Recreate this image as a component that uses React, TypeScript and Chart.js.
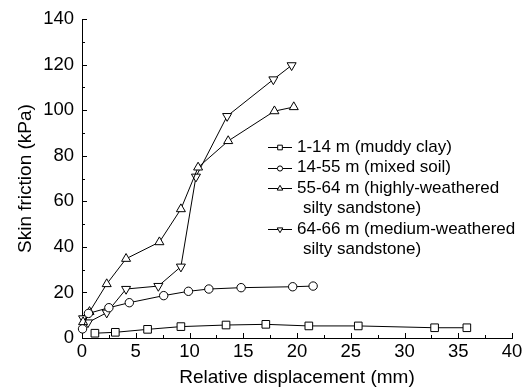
import React, { useEffect, useRef } from "react";
import { Chart, registerables } from "chart.js";
import { drawPoint } from "chart.js/helpers";

Chart.register(...registerables);

const FONT = "'Liberation Sans', Arial, sans-serif";

const seriesLabels = [
  ["1-14 m (muddy clay)"],
  ["14-55 m (mixed soil)"],
  ["55-64 m (highly-weathered", " silty sandstone)"],
  ["64-66 m (medium-weathered", " silty sandstone)"],
];

const clayX = [1.2, 3.1, 6.1, 9.2, 13.4, 17.1, 21.1, 25.7, 32.8, 35.8];
const clayY = [2.1, 2.5, 3.8, 5.0, 5.7, 6.0, 5.3, 5.3, 4.5, 4.5];

const mixedX = [0.05, 0.6, 2.5, 4.4, 7.6, 9.9, 11.8, 14.8, 19.6, 21.5];
const mixedY = [4.0, 10.8, 13.3, 15.5, 18.6, 20.5, 21.5, 22.1, 22.5, 22.8];

const highlyX = [0.1, 0.7, 2.3, 4.1, 7.2, 9.2, 10.8, 13.6, 17.9, 19.7];
const highlyY = [7.0, 11.5, 23.7, 34.8, 42.1, 56.6, 74.9, 86.5, 99.6, 101.4];

const mediumX = [0.1, 0.55, 2.3, 4.1, 7.1, 9.2, 10.6, 13.5, 17.8, 19.5];
const mediumY = [8.6, 6.8, 11.1, 21.5, 22.8, 31.3, 70.8, 97.4, 113.5, 119.7];

const xTickValues = [0, 5, 10, 15, 20, 25, 30, 35, 40];
const yTickValues = [0, 20, 40, 60, 80, 100, 120, 140];

const styles = [
  { pointStyle: "rect", radius: 5.4, rotation: 0, legendRadius: 3.3 },
  { pointStyle: "circle", radius: 4.2, rotation: 0, legendRadius: 2.6 },
  { pointStyle: "triangle", radius: 5.2, rotation: 0, legendRadius: 3.2 },
  { pointStyle: "triangle", radius: 5.2, rotation: 180, legendRadius: 3.2 },
];

function pts(xs: number[], ys: number[]) {
  return xs.map((x, i) => ({ x, y: ys[i] }));
}

const ticksPlugin = {
  id: "innerTicks",
  afterDraw(chart: any) {
    const ctx = chart.ctx;
    const xs = chart.scales.x;
    const ys = chart.scales.y;
    const area = chart.chartArea;
    ctx.save();
    ctx.strokeStyle = "#000";
    ctx.lineWidth = 1;
    ctx.beginPath();
    for (let v = 0; v <= 40; v += 2.5) {
      const px = Math.round(xs.getPixelForValue(v)) + 0.5;
      const len = v % 5 === 0 ? 5 : 3;
      ctx.moveTo(px, area.bottom);
      ctx.lineTo(px, area.bottom - len);
    }
    for (let v = 0; v <= 140; v += 10) {
      const py = Math.round(ys.getPixelForValue(v)) + 0.5;
      const len = v % 20 === 0 ? 5 : 3;
      ctx.moveTo(area.left, py);
      ctx.lineTo(area.left + len, py);
    }
    ctx.stroke();

    // legend
    const startX = 268;
    const lineLen = 24;
    const textX = 297;
    let y = 147;
    const rowH = 20.5;
    ctx.font = `17px ${FONT}`;
    ctx.textBaseline = "middle";
    ctx.fillStyle = "#000";
    seriesLabels.forEach((lines, i) => {
      ctx.strokeStyle = "#000";
      ctx.beginPath();
      ctx.moveTo(startX, Math.round(y) + 0.5);
      ctx.lineTo(startX + lineLen, Math.round(y) + 0.5);
      ctx.stroke();
      ctx.fillStyle = "#fff";
      drawPoint(
        ctx,
        {
          pointStyle: styles[i].pointStyle,
          radius: styles[i].legendRadius,
          rotation: styles[i].rotation,
          borderWidth: 1,
        } as any,
        startX + lineLen / 2,
        Math.round(y) + 0.5
      );
      ctx.fillStyle = "#000";
      lines.forEach((t, j) => {
        ctx.fillText(t.trim(), j === 0 ? textX : textX + 6, y + j * rowH);
      });
      y += rowH * lines.length;
    });
    ctx.restore();
  },
};

export default function App() {
  const ref = useRef<HTMLCanvasElement | null>(null);
  useEffect(() => {
    if (!ref.current) return;
    const data = [pts(clayX, clayY), pts(mixedX, mixedY), pts(highlyX, highlyY), pts(mediumX, mediumY)];
    const chart = new Chart(ref.current, {
      type: "scatter",
      data: {
        datasets: data.map((d, i) => ({
          label: seriesLabels[i].join(""),
          data: d,
          showLine: true,
          borderColor: "#000",
          borderWidth: 1,
          backgroundColor: "#fff",
          pointBackgroundColor: "#fff",
          pointBorderColor: "#000",
          pointBorderWidth: 1,
          pointStyle: styles[i].pointStyle as any,
          pointRadius: styles[i].radius,
          pointRotation: styles[i].rotation,
          clip: false as any,
        })),
      },
      options: {
        animation: false,
        responsive: false,
        devicePixelRatio: 1,
        layout: { padding: { left: 0, top: 19, right: 17, bottom: 0 } },
        plugins: { legend: { display: false }, tooltip: { enabled: false } },
        scales: {
          x: {
            type: "linear",
            min: 0,
            max: 40,
            afterFit(s: any) {
              s.height = 51;
            },
            afterBuildTicks(s: any) {
              s.ticks = xTickValues.map((v) => ({ value: v }));
            },
            grid: { display: false, drawTicks: false },
            border: { display: true, color: "#000", width: 1 },
            ticks: { color: "#000", padding: 3, font: { family: FONT, size: 18.5 }, maxRotation: 0 },
            title: {
              display: true,
              text: "Relative displacement (mm)",
              color: "#000",
              font: { family: FONT, size: 19 },
              padding: { top: 0, bottom: 0 },
            },
          },
          y: {
            type: "linear",
            min: 0,
            max: 140,
            afterFit(s: any) {
              s.width = 82;
            },
            afterBuildTicks(s: any) {
              s.ticks = yTickValues.map((v) => ({ value: v }));
            },
            grid: { display: false, drawTicks: false },
            border: { display: true, color: "#000", width: 1 },
            ticks: { color: "#000", padding: 8, font: { family: FONT, size: 18.5 } },
            title: {
              display: true,
              text: "Skin friction (kPa)",
              color: "#000",
              font: { family: FONT, size: 19 },
              padding: { top: 14, bottom: 0 },
            },
          },
        },
      },
      plugins: [ticksPlugin],
    });
    return () => chart.destroy();
  }, []);
  return (
    <div style={{ position: "fixed", left: 0, top: 0, width: 529, height: 389, background: "#fff" }}>
      <canvas ref={ref} width={529} height={389} style={{ width: 529, height: 389 }} />
    </div>
  );
}
